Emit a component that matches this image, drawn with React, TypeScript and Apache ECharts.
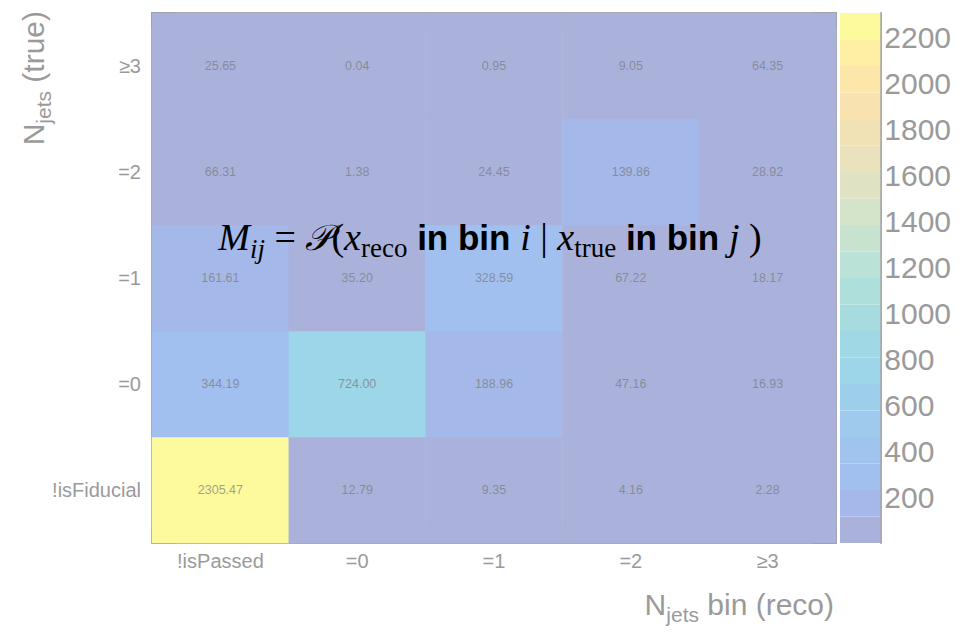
import React, { useEffect, useRef } from "react";
import * as echarts from "echarts";

// Bin labels
const recoBins = ["!isPassed", "=0", "=1", "=2", "≥3"];
const trueBins = ["!isFiducial", "=0", "=1", "=2", "≥3"];

// Migration matrix, one array per true bin, entries ordered by reco bin
const trueNotFiducial = [2305.47, 12.79, 9.35, 4.16, 2.28];
const trueEq0 = [344.19, 724.0, 188.96, 47.16, 16.93];
const trueEq1 = [161.61, 35.2, 328.59, 67.22, 18.17];
const trueEq2 = [66.31, 1.38, 24.45, 139.86, 28.92];
const trueGe3 = [25.65, 0.04, 0.95, 9.05, 64.35];

// Colour scale: z axis tick labels and palette bands (bottom to top)
const zTicks = [200, 400, 600, 800, 1000, 1200, 1400, 1600, 1800, 2000, 2200];
const bandColors = [
  "#aab2dc", "#a4b8e9", "#a1bfef", "#a0c4ee", "#9fcaed",
  "#9dcfeb", "#9dd5e9", "#a0d9e5", "#a6dce0", "#aedfdb",
  "#bae2d6", "#c7e3d0", "#d4e4ca", "#dfe3c3", "#e9e2bc",
  "#f1e2b6", "#f8e3b0", "#fce6aa", "#fdefa4", "#fdfa9e",
];

const rows = [trueNotFiducial, trueEq0, trueEq1, trueEq2, trueGe3];
const zMax = Math.max(...rows.flat());
const bandStep = zMax / bandColors.length;

const SANS = "'Liberation Sans', Arial, Helvetica, sans-serif";
const SERIF = "'Liberation Serif', 'DejaVu Serif', 'Times New Roman', serif";
const GREY = "#9a9a9a";
const FRAME = "#a8a8a8";

export default function App() {
  const ref = useRef<HTMLDivElement>(null);

  useEffect(() => {
    if (!ref.current) return;
    const chart = echarts.init(ref.current, null, { renderer: "svg" });

    const cells: [number, number, number][] = [];
    rows.forEach((row, yi) => row.forEach((v, xi) => cells.push([xi, yi, v])));

    const pieces = bandColors.map((color, i) =>
      i === bandColors.length - 1
        ? { gte: i * bandStep, lte: zMax + 1, color }
        : { gte: i * bandStep, lt: (i + 1) * bandStep, color }
    );

    const bandSeries = bandColors.map((color) => ({
      type: "bar" as const,
      xAxisIndex: 2,
      yAxisIndex: 2,
      stack: "palette",
      barWidth: "100%",
      data: [bandStep],
      itemStyle: { color },
      silent: true,
    }));

    const catAxisCommon = {
      type: "category" as const,
      gridIndex: 0,
      axisLine: { show: true, lineStyle: { color: FRAME, width: 2 } },
      splitLine: { show: false },
    };

    const formulaRich = {
      mi: { fontFamily: SERIF, fontStyle: "italic", fontSize: 38, fill: "#000" },
      subi: { fontFamily: SERIF, fontStyle: "italic", fontSize: 27, fill: "#000", padding: [24, 0, 0, 0] },
      sub: { fontFamily: SERIF, fontSize: 27, fill: "#000", padding: [22, 0, 0, 0] },
      rm: { fontFamily: SERIF, fontSize: 38, fill: "#000" },
      scr: { fontFamily: "'DejaVu Serif', 'DejaVu Sans', serif", fontStyle: "italic", fontSize: 36, fill: "#000" },
      bb: { fontFamily: SANS, fontWeight: "bold", fontSize: 35, fill: "#000" },
    };

    const titleRich = {
      n: { fontFamily: SANS, fontSize: 30, fill: GREY },
      s: { fontFamily: SANS, fontSize: 21, fill: GREY, padding: [20, 0, 0, 0] },
    };

    chart.setOption({
      animation: false,
      grid: [
        { left: 144, top: 5, width: 684, height: 530 },
        { left: 832, top: 5, width: 44, height: 530 },
      ],
      xAxis: [
        {
          ...catAxisCommon,
          position: "bottom",
          data: recoBins,
          axisTick: { show: true, inside: true, length: 16, lineStyle: { color: GREY, width: 1.5 } },
          axisLabel: { color: GREY, fontFamily: SANS, fontSize: 20, margin: 8 },
        },
        {
          ...catAxisCommon,
          position: "top",
          data: recoBins,
          axisTick: { show: true, inside: true, length: 16, lineStyle: { color: GREY, width: 1.5 } },
          axisLabel: { show: false },
        },
        { type: "category", gridIndex: 1, data: ["z"], show: false },
      ],
      yAxis: [
        {
          ...catAxisCommon,
          position: "left",
          data: trueBins,
          axisTick: { show: true, inside: true, length: 24, lineStyle: { color: GREY, width: 1.5 } },
          axisLabel: { color: GREY, fontFamily: SANS, fontSize: 20, margin: 11 },
        },
        {
          ...catAxisCommon,
          position: "right",
          data: trueBins,
          axisTick: { show: true, inside: true, length: 24, lineStyle: { color: GREY, width: 1.5 } },
          axisLabel: { show: false },
        },
        {
          type: "value",
          gridIndex: 1,
          position: "right",
          min: 0,
          max: zMax,
          interval: 200,
          axisLine: { show: true, lineStyle: { color: FRAME, width: 2 } },
          axisTick: {
            show: true,
            inside: true,
            length: 22,
            customValues: zTicks,
            lineStyle: { color: GREY, width: 1.5 },
          },
          axisLabel: {
            customValues: zTicks,
            formatter: (v: number) => String(v),
            color: GREY,
            fontFamily: SANS,
            fontSize: 30,
            margin: 4,
          },
          splitLine: { show: false },
        },
      ],
      visualMap: {
        type: "piecewise",
        show: false,
        seriesIndex: 0,
        dimension: 2,
        pieces,
      },
      series: [
        {
          type: "heatmap",
          xAxisIndex: 0,
          yAxisIndex: 0,
          data: cells,
          label: {
            show: true,
            formatter: (p: any) => Number(p.value[2]).toFixed(2),
            color: "rgba(120,120,120,0.7)",
            fontFamily: SANS,
            fontSize: 12.5,
          },
          emphasis: { disabled: true },
          silent: true,
        },
        ...bandSeries,
      ],
      graphic: [
        {
          type: "text",
          x: 482,
          y: 229,
          z: 100,
          silent: true,
          style: {
            text:
              "{mi|M}{subi|ij}{rm| = }{scr|𝒫}{rm|(}{mi|x}{sub|reco}{bb| in bin }{mi|i}{rm| | }{mi|x}{sub|true}{bb| in bin }{mi|j}{rm| )}",
            rich: formulaRich,
            align: "center",
            verticalAlign: "middle",
          },
        },
        {
          type: "text",
          x: 826,
          y: 596,
          z: 100,
          silent: true,
          style: {
            text: "{n|N}{s|jets}{n| bin (reco)}",
            rich: titleRich,
            align: "right",
            verticalAlign: "middle",
          },
        },
        {
          type: "text",
          x: 25,
          y: 3,
          rotation: Math.PI / 2,
          z: 100,
          silent: true,
          style: {
            text: "{n|N}{s|jets}{n| (true)}",
            rich: titleRich,
            align: "right",
            verticalAlign: "middle",
          },
        },
      ],
    });

    return () => chart.dispose();
  }, []);

  return <div ref={ref} style={{ width: 946, height: 619 }} />;
}
